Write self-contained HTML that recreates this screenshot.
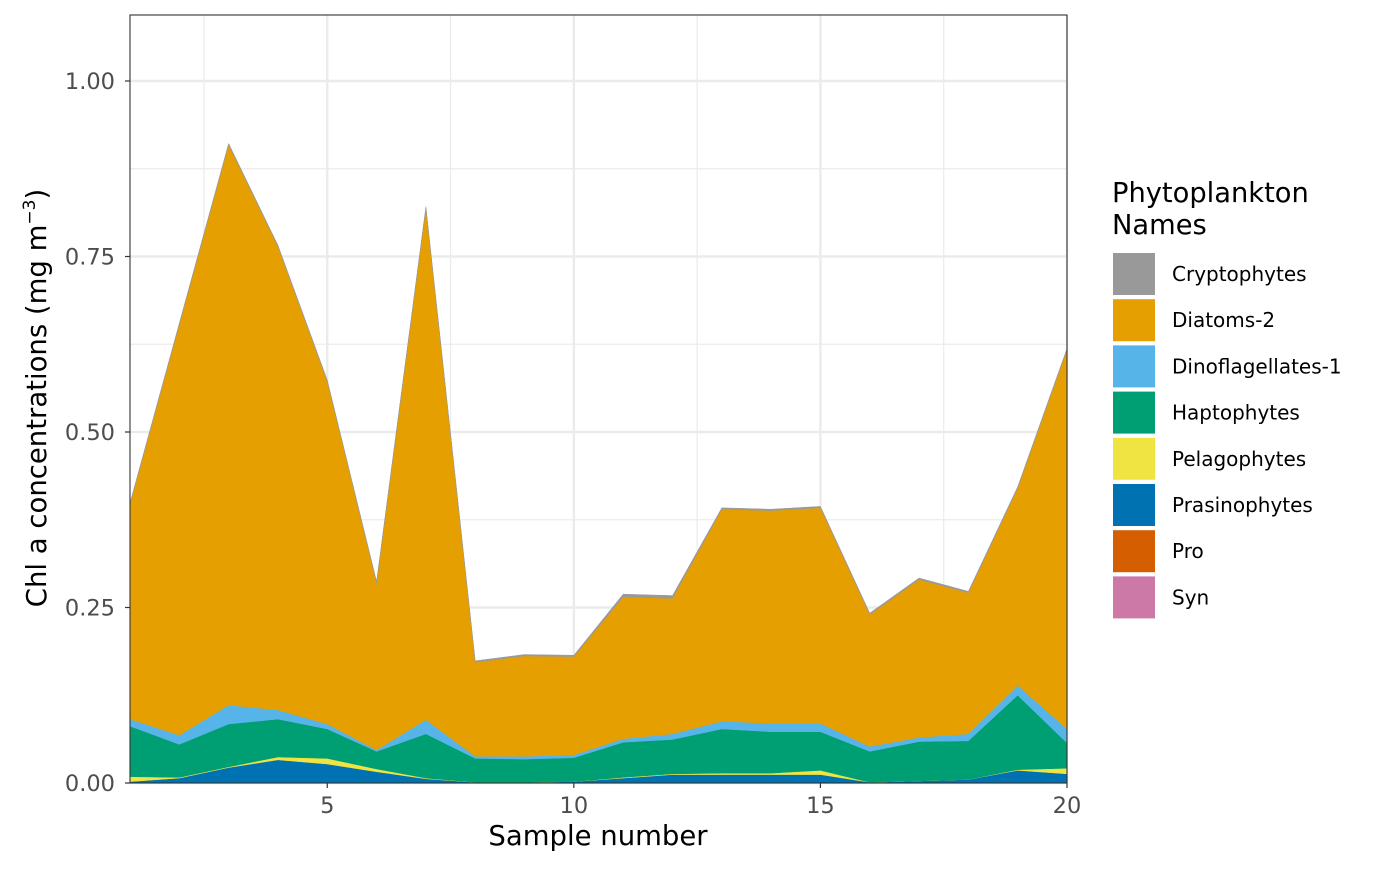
<!DOCTYPE html>
<html><head><meta charset="utf-8"><style>
body{margin:0;background:#fff;}
svg text{font-family:"DejaVu Sans","Liberation Sans",sans-serif;}
</style></head><body>
<svg id="chart" width="1400" height="866" xmlns="http://www.w3.org/2000/svg">
<rect width="1400" height="866" fill="#fff"/>
<g id="grid"></g>
<g id="areas"></g>
<rect x="130" y="15" width="937" height="768" fill="none" stroke="#333" stroke-width="1.1"/>
<g id="axes"></g>
<text x="598" y="845" font-size="27.5" text-anchor="middle" fill="#000">Sample number</text>
<text transform="translate(46,398) rotate(-90)" font-size="27.5" text-anchor="middle" fill="#000">Chl a concentrations (mg m<tspan font-size="17" dy="-11">−3</tspan><tspan dy="11">)</tspan></text>
<g id="legend">
<text x="1112" y="202" font-size="27.3" fill="#000">Phytoplankton</text>
<text x="1112" y="234" font-size="27.3" fill="#000">Names</text>
</g>
</svg>
<script>
const samples=[1,2,3,4,5,6,7,8,9,10,11,12,13,14,15,16,17,18,19,20];
const seriesNames=["Cryptophytes","Diatoms-2","Dinoflagellates-1","Haptophytes","Pelagophytes","Prasinophytes","Pro","Syn"];
const cryptophytes=[0.002,0.002,0.002,0.002,0.002,0.002,0.002,0.002,0.002,0.002,0.004,0.004,0.002,0.002,0.002,0.002,0.002,0.002,0.002,0.002];
const diatoms2=[0.306,0.585,0.798,0.660,0.488,0.238,0.729,0.134,0.143,0.140,0.202,0.193,0.302,0.303,0.307,0.188,0.225,0.201,0.281,0.540];
const dinoflagellates1=[0.010,0.013,0.027,0.013,0.007,0.002,0.020,0.003,0.004,0.004,0.005,0.008,0.011,0.012,0.012,0.007,0.006,0.010,0.014,0.020];
const haptophytes=[0.072,0.047,0.061,0.054,0.042,0.025,0.063,0.034,0.033,0.034,0.050,0.049,0.063,0.059,0.055,0.044,0.056,0.055,0.106,0.036];
const pelagophytes=[0.007,0.001,0.001,0.004,0.008,0.004,0.001,0,0,0,0.001,0.001,0.002,0.002,0.006,0,0,0,0.001,0.008];
const prasinophytes=[0.002,0.007,0.022,0.033,0.027,0.016,0.006,0.001,0.001,0.002,0.007,0.012,0.012,0.012,0.012,0.001,0.003,0.005,0.018,0.013];
const pro=[0,0,0,0,0,0,0,0,0,0,0,0,0,0,0,0,0,0,0,0];
const syn=[0,0,0,0,0,0,0,0,0,0,0,0,0,0,0,0,0,0,0,0];
const yTicks=[0,0.25,0.5,0.75,1.0];
const yTickLabels=["0.00","0.25","0.50","0.75","1.00"];
const xTicks=[5,10,15,20];

const NS="http://www.w3.org/2000/svg";
const colors=["#999999","#E69F00","#56B4E9","#009E73","#F0E442","#0072B2","#D55E00","#CC79A7"];
const seriesVals=[cryptophytes,diatoms2,dinoflagellates1,haptophytes,pelagophytes,prasinophytes,pro,syn];
const X0=130,X1=1067,Y0=783,YT=15;
const xs=v=>X0+(v-1)/(19)*(X1-X0);
const ys=v=>Y0-v*702;
function mk(tag,attrs,parent){const e=document.createElementNS(NS,tag);for(const k in attrs)e.setAttribute(k,attrs[k]);parent.appendChild(e);return e;}
const grid=document.getElementById('grid');
for(let v=0.125;v<1.1;v+=0.25){const l=mk('line',{x1:X0,x2:X1,y1:ys(v),y2:ys(v),stroke:'#ebebeb','stroke-width':1.2},grid);

}
[2.5,7.5,12.5,17.5].forEach(v=>{const l=mk('line',{x1:xs(v),x2:xs(v),y1:YT,y2:Y0,stroke:'#ebebeb','stroke-width':1.2},grid);

});
yTicks.forEach(v=>{const l=mk('line',{x1:X0,x2:X1,y1:ys(v),y2:ys(v),stroke:'#ebebeb','stroke-width':2.4},grid);

});
xTicks.forEach(v=>{const l=mk('line',{x1:xs(v),x2:xs(v),y1:YT,y2:Y0,stroke:'#ebebeb','stroke-width':2.4},grid);

});
const n=samples.length;
let base=new Array(n).fill(0);
const areas=document.getElementById('areas');
const layers=[];
for(let s=seriesVals.length-1;s>=0;s--){
  const top=base.map((b,i)=>b+seriesVals[s][i]);
  let d='M'+samples.map((x,i)=>xs(x)+','+ys(top[i])).join(' L');
  for(let i=n-1;i>=0;i--)d+=' L'+xs(samples[i])+','+ys(base[i]);
  d+='Z';
  layers.push({s,d});
  base=top;
}
layers.forEach(L=>{const p=mk('path',{d:L.d,fill:colors[L.s],stroke:colors[L.s],'stroke-width':0.5},areas);

});
const axes=document.getElementById('axes');
yTicks.forEach((v,i)=>{
  const t=mk('line',{x1:X0-5,x2:X0,y1:ys(v),y2:ys(v),stroke:'#333','stroke-width':1.2},axes);
  
  
  const tx=mk('text',{x:X0-15,y:ys(v)+8,'font-size':22.5,'text-anchor':'end',fill:'#4d4d4d'},axes);
  tx.textContent=yTickLabels[i];
  
  
});
xTicks.forEach(v=>{
  const t=mk('line',{x1:xs(v),x2:xs(v),y1:Y0,y2:Y0+5,stroke:'#333','stroke-width':1.2},axes);
  
  
  const tx=mk('text',{x:xs(v),y:Y0+30,'font-size':22.5,'text-anchor':'middle',fill:'#4d4d4d'},axes);
  tx.textContent=v;
  
  
});
const lg=document.getElementById('legend');
seriesNames.forEach((nm,i)=>{
  const y=253+i*46.2;
  const r=mk('rect',{x:1113,y:y,width:42,height:42,fill:colors[i]},lg);
  
  
  const t=mk('text',{x:1172,y:y+28,'font-size':20,fill:'#000'},lg);
  t.textContent=nm;
  
  
});
</script>
</body></html>
